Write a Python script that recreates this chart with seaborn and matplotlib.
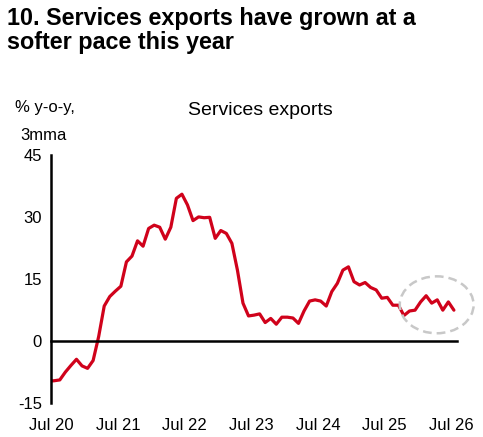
import numpy as np
import pandas as pd
import matplotlib
matplotlib.use("Agg")
import matplotlib.pyplot as plt
from matplotlib.patches import Ellipse
import seaborn as sns

# Monthly services exports, % y-o-y 3mma (Jun 20 .. Jul 26)
values = [
    -9.8, -9.7, -9.5, -7.6, -6.0, -4.5, -6.1, -6.7, -4.8, 1.0,
    8.4, 10.7, 12.0, 13.2, 19.1, 20.5, 24.2, 22.9, 27.2, 28.0,
    27.5, 24.6, 27.5, 34.5, 35.5, 32.9, 29.1, 30.0, 29.8, 29.9,
    24.8, 26.7, 26.0, 23.6, 17.1, 9.1, 6.0, 6.2, 6.5, 4.4,
    5.4, 4.0, 5.7, 5.7, 5.5, 4.2, 7.2, 9.6, 9.9, 9.6,
    8.4, 11.9, 13.9, 17.1, 17.9, 14.3, 13.5, 14.1, 12.9, 12.3,
    10.3, 10.5, 8.6, 8.6, 6.1, 7.2, 7.4, 9.4, 10.9, 9.1,
    9.9, 7.4, 9.4, 7.4,
]
# months since Jul 2020, points sit mid-month
months = np.arange(len(values)) - 0.5

tick_pos = [0, 12, 24, 36, 48, 60, 72]
tick_labels = ["Jul 20", "Jul 21", "Jul 22", "Jul 23", "Jul 24", "Jul 25", "Jul 26"]
y_ticks = [-15, 0, 15, 30, 45]

df = pd.DataFrame({"month": months, "value": values})

sns.set_style("white")
plt.rcParams["font.family"] = ["Liberation Sans", "DejaVu Sans"]
plt.rcParams["axes.unicode_minus"] = False
plt.rcParams["text.color"] = "black"
plt.rcParams["xtick.color"] = "black"
plt.rcParams["ytick.color"] = "black"

fig = plt.figure(figsize=(4.83, 4.37), dpi=100)
ax = fig.add_axes([0.1066, 0.0787, 0.8389, 0.5666])

sns.lineplot(data=df, x="month", y="value", ax=ax, color="#d0021b", linewidth=2.3)

# highlight of the latest months
ax.add_patch(Ellipse((69.4, 8.7), 13.3, 13.8, fill=False, edgecolor="#c8c8c8",
                     linestyle=(0, (3.5, 2)), linewidth=1.8, zorder=3, clip_on=False))

ax.set_xlim(0, 73)
ax.set_ylim(-15, 45)
ax.set_xticks(tick_pos)
ax.set_xticklabels(tick_labels)
ax.set_yticks(y_ticks)
ax.set_xlabel("")
ax.set_ylabel("")

for side in ["top", "right"]:
    ax.spines[side].set_visible(False)
ax.spines["bottom"].set_position(("data", 0))
for side in ["left", "bottom"]:
    ax.spines[side].set_linewidth(1.8)
    ax.spines[side].set_color("black")

ax.tick_params(axis="y", direction="out", length=5, width=1.8, pad=2, labelsize=12,
               colors="black")
ax.tick_params(axis="x", direction="out", length=5, width=1.8, pad=51, labelsize=12,
               colors="black")

fig.text(0.015, 1 - 24.5 / 437, "10. Services exports have grown at a",
         fontsize=16.8, fontweight="bold", va="baseline", ha="left")
fig.text(0.015, 1 - 49.5 / 437, "softer pace this year",
         fontsize=16.8, fontweight="bold", va="baseline", ha="left")

fig.text(15 / 483, 1 - 111.7 / 437, "% y-o-y,", fontsize=12, va="baseline", ha="left")
fig.text(20 / 483, 1 - 140 / 437, "3mma", fontsize=12, va="baseline", ha="left")
fig.text(260 / 483, 1 - 115 / 437, "Services exports", fontsize=14, va="baseline", ha="center")

fig.savefig("out.png", dpi=100)
